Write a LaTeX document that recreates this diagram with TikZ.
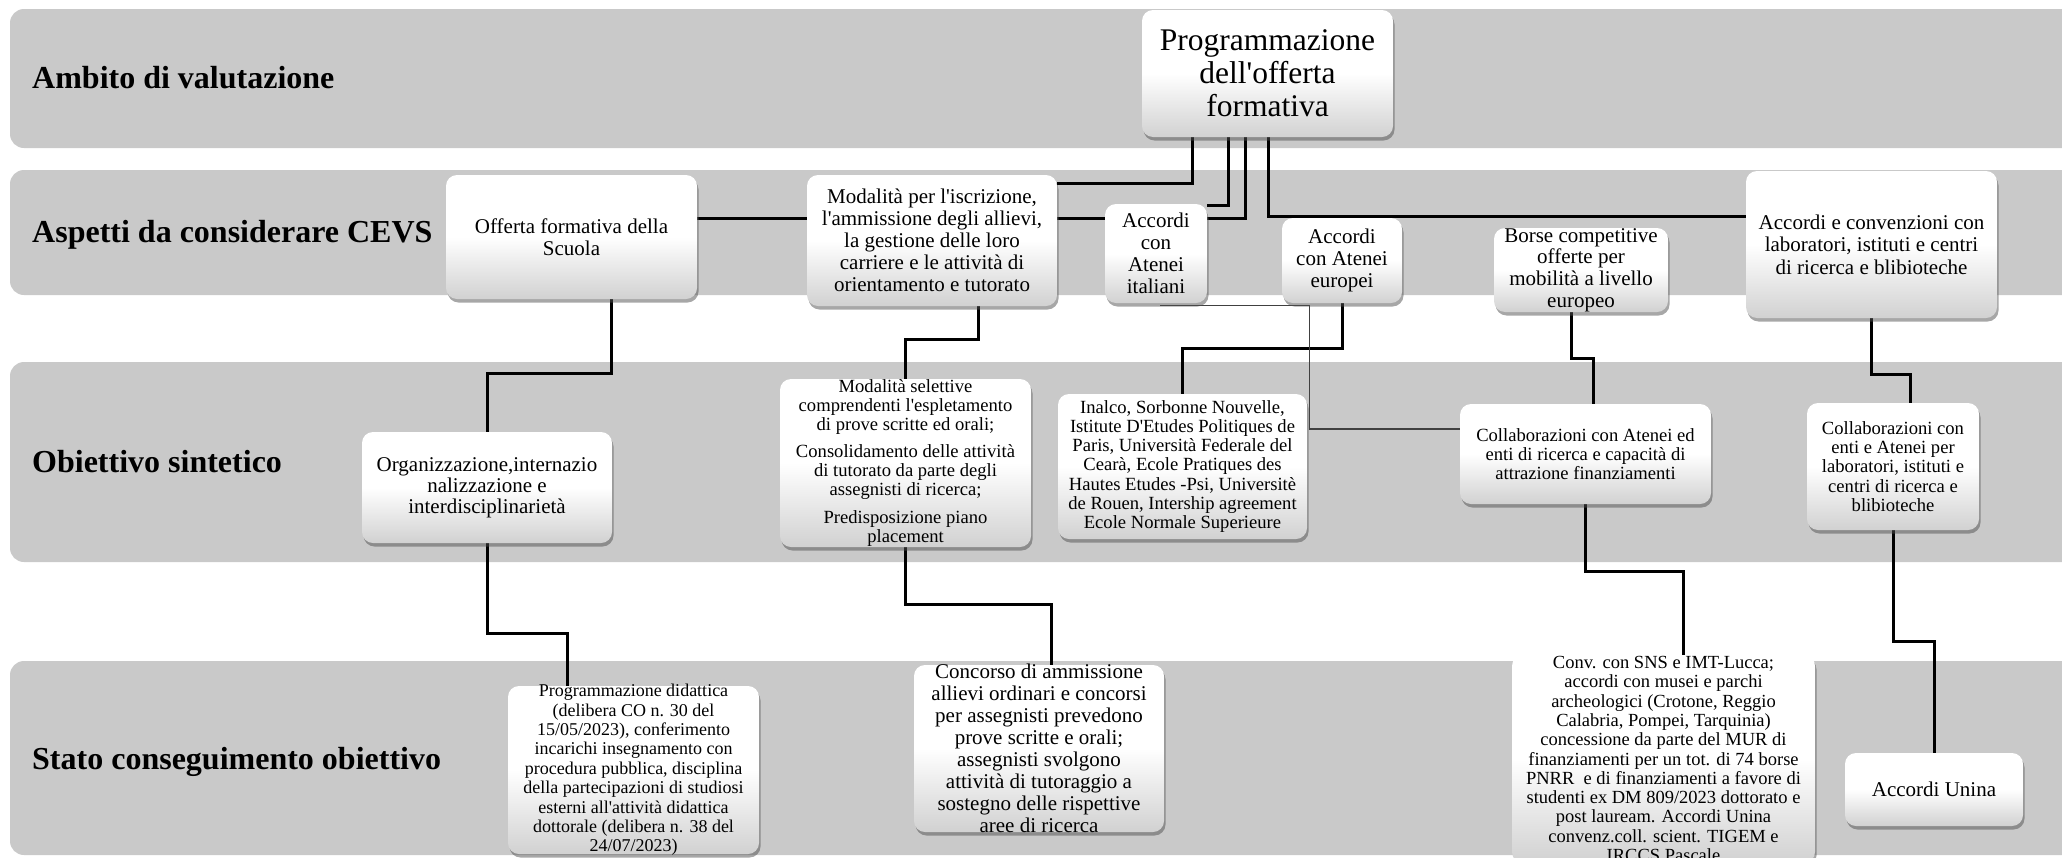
\documentclass[tikz,border=0pt]{standalone}
\usepackage{fontspec}
\setmainfont{Liberation Serif}
\usepackage{tikz}
\usetikzlibrary{calc,shadows}
\definecolor{fascia}{RGB}{201,201,201}
\definecolor{ombra}{RGB}{80,80,80}
\pgfdeclarelayer{fondo}
\pgfsetlayers{fondo,main}
\newcommand{\testo}[3]{\parbox[c][#2][c]{#1}{\centering #3}}

\begin{document}
\begin{tikzpicture}[x=1pt, y=-1pt,
  titolo/.style={anchor=base west, inner sep=0pt, font=\fontsize{32}{34}\selectfont\bfseries},
  blocco/.style={rectangle, rounded corners=11pt, inner sep=0pt,
    top color=white, bottom color=black!18, middle color=white,
    drop shadow={shadow xshift=1.5pt, shadow yshift=-3.5pt, fill=ombra, opacity=0.5}},
  grande/.style={font=\fontsize{21}{22}\selectfont},
  piccolo/.style={font=\fontsize{18.6}{19.3}\selectfont},
  linea/.style={line width=3pt, black},
  lineasottile/.style={line width=1.3pt, black!75}]
  \useasboundingbox (0,0) rectangle (2062,857);

  % Fasce
  \begin{pgfonlayer}{fondo}
    \fill[fascia, rounded corners=14pt] (10,9) rectangle (2100,148);
    \fill[fascia, rounded corners=14pt] (10,170) rectangle (2100,295);
    \fill[fascia, rounded corners=14pt] (10,362) rectangle (2100,562);
    \fill[fascia, rounded corners=14pt] (10,661) rectangle (2100,855);
  \end{pgfonlayer}

  \node[titolo] (ambito) at (32,88) {Ambito di valutazione};
  \node[titolo] (aspetti) at (32,242) {Aspetti da considerare CEVS};
  \node[titolo] (obiettivo) at (32,472) {Obiettivo sintetico};
  \node[titolo] (stato) at (32,769) {Stato conseguimento obiettivo};

  % Ambito
  \node[blocco, font=\fontsize{31.5}{33}\selectfont] (prog) at (1267.5,73.5)
    {\testo{251pt}{127pt}{Programmazione\\dell\textquotesingle offerta\\formativa}};

  % Aspetti
  \node[blocco, grande] (offerta) at (571.5,237) {\testo{251pt}{124pt}{Offerta formativa della\\Scuola}};
  \node[blocco, grande] (modal) at (932,240.5)
    {\testo{250pt}{131pt}{Modalità per l\textquotesingle iscrizione,\\l\textquotesingle ammissione degli allievi,\\la gestione delle loro\\carriere e le attività di\\orientamento e tutorato}};
  \node[blocco, grande] (ital) at (1156,253.5) {\testo{102pt}{99pt}{Accordi\\con\\Atenei\\italiani}};
  \node[blocco, grande] (europ) at (1342,260.5) {\testo{120pt}{85pt}{Accordi\\con Atenei\\europei}};
  \node[blocco, font=\fontsize{21}{21.7}\selectfont] (borse) at (1581,270)
    {\testo{174pt}{84pt}{Borse competitive\\offerte per\\mobilità a livello\\europeo}};
  \node[blocco, font=\fontsize{21}{22.5}\selectfont] (accconv) at (1871.5,244.5)
    {\testo{251pt}{147pt}{Accordi e convenzioni con\\laboratori, istituti e centri\\di ricerca e blibioteche}};

  % Obiettivo
  \node[blocco, font=\fontsize{21}{21}\selectfont] (organ) at (487,487.5)
    {\testo{250pt}{111pt}{Organizzazione,internazio\\nalizzazione e\\interdisciplinarietà}};
  \node[blocco, font=\fontsize{18.6}{19}\selectfont] (modsel) at (905.5,463)
    {\testo{251pt}{168pt}{Modalità selettive\\comprendenti l\textquotesingle espletamento\\di prove scritte ed orali;\\[8.5pt]Consolidamento delle attività\\di tutorato da parte degli\\assegnisti di ricerca;\\[8.5pt]Predisposizione piano\\placement}};
  \node[blocco, piccolo] (inalco) at (1182.5,466.5)
    {\testo{249pt}{145pt}{Inalco, Sorbonne Nouvelle,\\Istitute D\textquotesingle Etudes Politiques de\\Paris, Università Federale del\\Cearà, Ecole Pratiques des\\Hautes Etudes -Psi, Universitè\\de Rouen, Intership agreement\\Ecole Normale Superieure}};
  \node[blocco, font=\fontsize{18.6}{19}\selectfont] (collab1) at (1585.5,454)
    {\testo{251pt}{100pt}{Collaborazioni con Atenei ed\\enti di ricerca e capacità di\\attrazione finanziamenti}};
  \node[blocco, piccolo] (collab2) at (1893,466.5)
    {\testo{172pt}{127pt}{Collaborazioni con\\enti e Atenei per\\laboratori, istituti e\\centri di ricerca e\\blibioteche}};

  % Stato
  \node[blocco, font=\fontsize{18}{19.4}\selectfont] (progdid) at (633.5,770)
    {\testo{251pt}{168pt}{Programmazione didattica\\(delibera CO n. 30 del\\15/05/2023), conferimento\\incarichi insegnamento con\\procedura pubblica, disciplina\\della partecipazioni di studiosi\\esterni all\textquotesingle attività didattica\\dottorale (delibera n. 38 del\\24/07/2023)}};
  \node[blocco, grande] (concorso) at (1039,748.5)
    {\testo{250pt}{167pt}{Concorso di ammissione\\allievi ordinari e concorsi\\per assegnisti prevedono\\prove scritte e orali;\\assegnisti svolgono\\attività di tutoraggio a\\sostegno delle rispettive\\aree di ricerca}};
  \node[blocco, font=\fontsize{18.5}{19.3}\selectfont] (conv) at (1663.5,759)
    {\testo{303pt}{208pt}{Conv. con SNS e IMT-Lucca;\\accordi con musei e parchi\\archeologici (Crotone, Reggio\\Calabria, Pompei, Tarquinia)\\concessione da parte del MUR di\\finanziamenti per un tot. di 74 borse\\PNRR\ \ e di finanziamenti a favore di\\studenti ex DM 809/2023 dottorato e\\post lauream. Accordi Unina\\convenz.coll. scient. TIGEM e\\IRCCS Pascale}};
  \node[blocco, grande] (unina) at (1934,789.5) {\testo{178pt}{73pt}{Accordi Unina}};

  % Collegamenti
  \begin{pgfonlayer}{fondo}
    \draw[linea] ($(prog.south)+(-75.5,0)$) |- ($(modal.north east)+(0,9)$);
    \draw[linea] ($(prog.south)+(-39.5,0)$) |- ($(ital.north east)+(0,2)$);
    \draw[linea] ($(prog.south)+(-22.5,0)$) |- ($(offerta.east)+(0,-19)$);
    \draw[linea] ($(prog.south)+(0.5,0)$) |- ($(accconv.west)+(0,-28.5)$);

    \draw[linea] ($(offerta.south)+(39.5,0)$) -- ++(0,74) -| (organ.north);
    \draw[linea] ($(modal.south)+(46,0)$) -- ++(0,33) -| (modsel.north);
    \draw[linea] (europ.south) -- ++(0,45) -| (inalco.north);
    \draw[linea] ($(borse.south)+(-10,0)$) -- ++(0,46) -| ($(collab1.north)+(7.5,0)$);
    \draw[linea] (accconv.south) -- ++(0,56) -| ($(collab2.north)+(17,0)$);
    \draw[lineasottile] ($(ital.south)+(4,2)$) -| ($(collab1.west)+(-150,-25)$) -- ($(collab1.west)+(0,-25)$);

    \draw[linea] (organ.south) -- ++(0,90) -| ($(progdid.north)+(-66.5,0)$);
    \draw[linea] (modsel.south) -- ++(0,57) -| ($(concorso.north)+(12,0)$);
    \draw[linea] (collab1.south) -- ++(0,67) -| ($(conv.north)+(19.5,0)$);
    \draw[linea] (collab2.south) -- ++(0,111) -| (unina.north);
  \end{pgfonlayer}
\end{tikzpicture}
\end{document}
